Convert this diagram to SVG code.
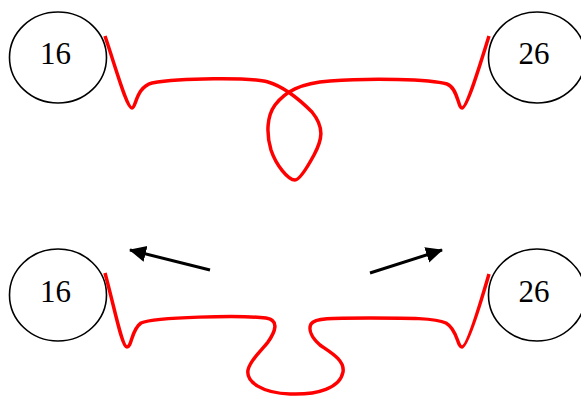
<svg xmlns="http://www.w3.org/2000/svg" width="581" height="396" viewBox="0 0 581 396">
<style>
.node ellipse{fill:#fff;stroke:#000;stroke-width:1.6}
.node text{font-family:"Liberation Serif","Times New Roman",serif;font-size:31px;fill:#000;text-anchor:middle}
.wire{fill:none;stroke:#ff0000;stroke-width:3.5;stroke-linecap:butt;stroke-linejoin:round}
.arrow{fill:none;stroke:#000;stroke-width:3;marker-end:url(#ah)}
</style>
<defs>
<marker id="ah" markerUnits="userSpaceOnUse" markerWidth="18" markerHeight="18" viewBox="0 0 18 18" refX="16" refY="9" orient="auto">
<path d="M0,1 L17,9 L0,17 Z" fill="#000"/>
</marker>
</defs>
<g id="n16a" class="node"><ellipse cx="58" cy="57.5" rx="48.5" ry="45.5"/><text x="55.5" y="63.5">16</text></g>
<g id="n26a" class="node"><ellipse cx="537" cy="57.5" rx="48.5" ry="45.5"/><text x="534" y="63.5">26</text></g>
<g id="n16b" class="node"><ellipse cx="58" cy="295" rx="48.5" ry="46"/><text x="55.5" y="301.5">16</text></g>
<g id="n26b" class="node"><ellipse cx="537" cy="295" rx="48.5" ry="46"/><text x="534" y="301.5">26</text></g>
<g id="connectors">
<path class="wire" d="M105,36 C118,75 127,108 132,108 C136,108 136,87 152,83 C180,78 250,77 268,82 C285,87 300,100 312,112 C325,128 322,140 314,155 C308,166 300,180 295,180 C288,180 276,165 271,150 C266,133 267,116 275,105 C285,92 300,83 330,81 C370,78 430,79 447,84 C458,88 458,108 462,108 C467,108 480,65 489,36"/>
<path class="wire" d="M105,273 C115,310 122,347 127,347 C132,347 131,330 141,323 C155,317 240,315 266,318 C280,320 275,332 268,342 C262,350 250,360 248,370 C246,382 262,393 290,394 C318,395 340,388 343,372 C345,360 330,352 320,345 C312,338 308,330 311,324 C315,318 330,318 370,318 C410,318 435,318 446,323 C458,330 457,347 462,347 C467,347 480,305 489,274"/>
<path class="arrow" d="M210,270 L130,250"/>
<path class="arrow" d="M370,273 L442,250"/>
</g>
</svg>
